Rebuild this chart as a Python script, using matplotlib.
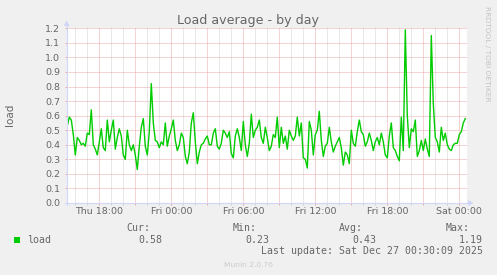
import matplotlib
matplotlib.use('Agg')
import matplotlib.pyplot as plt
import numpy as np
from matplotlib.patches import Polygon, Rectangle
from matplotlib.lines import Line2D

W, H = 497, 275

# ---------------- data ----------------
# 5-minute-ish load average samples (every 10 min), hours since Thu 00:00
start_hour = 15 + 20 / 60
step_hours = 10 / 60
load = [
    0.53, 0.59, 0.57, 0.47, 0.33, 0.45, 0.43, 0.40, 0.41, 0.39, 0.48, 0.47, 0.64,
    0.40, 0.37, 0.33, 0.42, 0.51, 0.38, 0.36, 0.57, 0.42, 0.50, 0.57, 0.37,
    0.45, 0.51, 0.46, 0.33, 0.30, 0.50, 0.40, 0.36, 0.40, 0.33, 0.23, 0.39, 0.52,
    0.58, 0.39, 0.33, 0.49, 0.82, 0.55, 0.43, 0.42, 0.38, 0.42, 0.40, 0.55,
    0.39, 0.46, 0.51, 0.57, 0.43, 0.36, 0.40, 0.48, 0.45, 0.32, 0.27, 0.35, 0.55,
    0.62, 0.42, 0.27, 0.35, 0.40, 0.41, 0.44, 0.46, 0.40, 0.40, 0.48, 0.51,
    0.39, 0.37, 0.41, 0.50, 0.48, 0.45, 0.49, 0.34, 0.31, 0.46, 0.51, 0.45, 0.36,
    0.56, 0.40, 0.32, 0.41, 0.61, 0.45, 0.50, 0.52, 0.57, 0.45, 0.41, 0.52,
    0.45, 0.36, 0.39, 0.47, 0.45, 0.59, 0.38, 0.52, 0.41, 0.46, 0.37, 0.50, 0.46,
    0.43, 0.46, 0.59, 0.46, 0.55, 0.31, 0.30, 0.24, 0.56, 0.50, 0.33, 0.47,
    0.50, 0.63, 0.43, 0.32, 0.39, 0.41, 0.52, 0.42, 0.35, 0.39, 0.42, 0.45, 0.38,
    0.26, 0.35, 0.33, 0.27, 0.50, 0.41, 0.39, 0.49, 0.57, 0.49, 0.47, 0.39,
    0.42, 0.48, 0.43, 0.36, 0.42, 0.45, 0.40, 0.48, 0.42, 0.33, 0.31, 0.46, 0.55,
    0.38, 0.36, 0.32, 0.29, 0.59, 0.36, 1.19, 0.60, 0.38, 0.51, 0.49, 0.57,
    0.32, 0.36, 0.43, 0.36, 0.44, 0.37, 0.32, 1.15, 0.68, 0.45, 0.42, 0.35, 0.52,
    0.43, 0.48, 0.40, 0.37, 0.36, 0.40, 0.41, 0.41, 0.47, 0.49, 0.55, 0.58,
]
hours = start_hour + step_hours * np.arange(len(load))

tick_hours = [18, 24, 30, 36, 42, 48]
tick_labels = ['Thu 18:00', 'Fri 00:00', 'Fri 06:00', 'Fri 12:00', 'Fri 18:00', 'Sat 00:00']
y_ticks = [0.0, 0.1, 0.2, 0.3, 0.4, 0.5, 0.6, 0.7, 0.8, 0.9, 1.0, 1.1, 1.2]

stat_names = ['Cur:', 'Min:', 'Avg:', 'Max:']
stat_values = ['0.58', '0.23', '0.43', '1.19']
series_name = 'load'
title = 'Load average - by day'
last_update = 'Last update: Sat Dec 27 00:30:09 2025'

# ---------------- style ----------------
BACK = '#F0F0F0'
FONT = '#666666'
LINE = '#00CC00'
AXIS = '#CFD6F8'
MGRID = '#E8A8A8'
GRID = '#D0D0D0'

fig = plt.figure(figsize=(W / 100, H / 100), dpi=100, facecolor=BACK)

# plot area in pixels
px_l, px_r, px_t, px_b = 66.7, 467.3, 28.3, 203.0
ax = fig.add_axes([px_l / W, 1 - px_b / H, (px_r - px_l) / W, (px_b - px_t) / H])
ax.set_facecolor('white')

x_left = 18 - (99.3 - px_l) / 12.0
x_right = 18 + (px_r - 99.3) / 12.0
ax.set_xlim(x_left, x_right)
ax.set_ylim(0, 1.2)

ax.plot(hours, load, color=LINE, lw=1.0, solid_joinstyle='round', zorder=3)

major_x = np.arange(18, 49, 3)
minor_x = [h for h in range(16, 49) if h % 3 != 0]
ax.set_xticks(major_x)
ax.set_xticklabels([tick_labels[tick_hours.index(h)] if h in tick_hours else '' for h in major_x])
ax.set_xticks(minor_x, minor=True)
ax.set_yticks(y_ticks)
ax.set_yticklabels([f'{v:.1f}' for v in y_ticks])

dots = (0, (1, 1))
ax.grid(True, which='minor', axis='x', color=GRID, ls=dots, lw=0.72, zorder=1)
ax.grid(True, which='major', axis='both', color=MGRID, ls=dots, lw=0.72, zorder=1)
ax.set_axisbelow(True)

ax.tick_params(axis='x', which='major', length=1.5, width=0.72, color=MGRID,
               labelsize=6.8, labelcolor=FONT, pad=1.2)
ax.tick_params(axis='x', which='minor', length=1.5, width=0.72, color=GRID)
ax.tick_params(axis='y', which='major', length=1.5, width=0.72, color=MGRID,
               labelsize=6.8, labelcolor=FONT, pad=3.2)
for s in ax.spines.values():
    s.set_visible(False)

# ---------------- overlay in pixel coordinates ----------------
ov = fig.add_axes([0, 0, 1, 1], zorder=5)
ov.set_xlim(0, W)
ov.set_ylim(H, 0)
ov.axis('off')
ov.patch.set_alpha(0)

# axes lines + arrows
ov.add_line(Line2D([px_l, px_l], [px_b + 2, 25], color=AXIS, lw=0.8))
ov.add_line(Line2D([px_l - 2, 469], [px_b, px_b], color=AXIS, lw=0.8))
ov.add_patch(Polygon([[px_l - 3, 26], [px_l + 3, 26], [px_l, 20.5]], closed=True,
                     facecolor=AXIS, edgecolor='none'))
ov.add_patch(Polygon([[468, px_b - 3], [468, px_b + 3], [473.5, px_b]], closed=True,
                     facecolor=AXIS, edgecolor='none'))

ov.text(248.2, 24, title, ha='center', va='baseline', fontsize=9.1, color=FONT)
ov.text(10.5, 114.5, 'load', rotation=90, ha='center', va='center', fontsize=7.5, color=FONT)
ov.text(487.5, 53.5, 'RRDTOOL / TOBI OETIKER', rotation=270, ha='center', va='center',
        fontsize=5.4, color='#C4C4C4')

mono = 'DejaVu Sans Mono'
stat_name_x = [150.0, 256.7, 363.3, 470.0]
stat_val_x = [162.3, 269.3, 376.0, 482.7]
for nm, xv in zip(stat_names, stat_name_x):
    ov.text(xv, 231, nm, ha='right', va='baseline', family=mono, fontsize=7.1, color=FONT)
for vv, xv in zip(stat_values, stat_val_x):
    ov.text(xv, 242.7, vv, ha='right', va='baseline', family=mono, fontsize=7.1, color=FONT)
ov.add_patch(Rectangle((14, 236.7), 6, 6, facecolor=LINE, edgecolor='none'))
ov.text(26.7, 242.7, series_name, ha='left', va='baseline', family=mono, fontsize=7.1, color=FONT)
ov.text(482.7, 254, last_update, ha='right', va='baseline', family=mono, fontsize=7.1, color=FONT)
ov.text(248, 266.7, 'Munin 2.0.76', ha='center', va='baseline', fontsize=5.4, color='#CCCCCC')

fig.savefig('out.png', dpi=100, facecolor=BACK)
